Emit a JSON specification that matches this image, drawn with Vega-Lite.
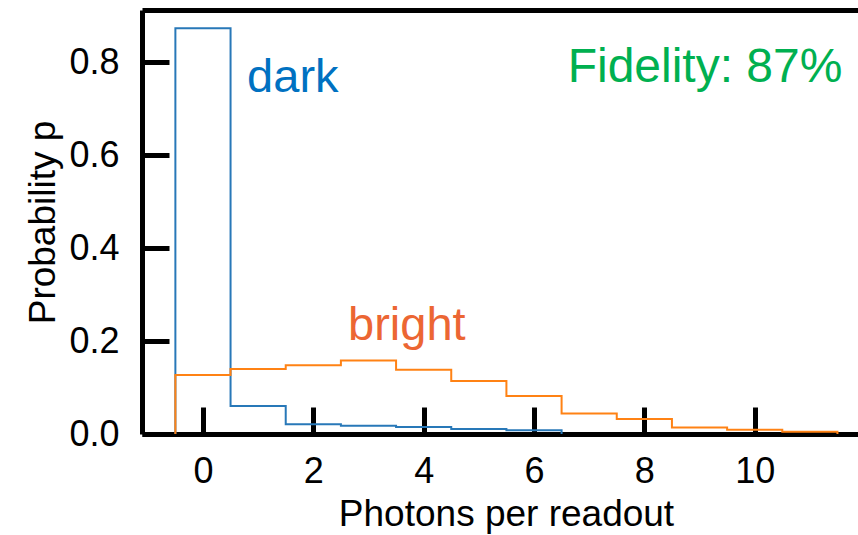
{
  "$schema": "https://vega.github.io/schema/vega-lite/v6.json",
  "width": 728,
  "height": 424,
  "autosize": {"type": "none"},
  "padding": {"left": 142, "top": 10, "right": 0, "bottom": 101},
  "background": "white",
  "config": {
    "view": {"stroke": null},
    "font": "Liberation Sans",
    "axis": {
      "domainColor": "black",
      "domainWidth": 5,
      "tickColor": "black",
      "tickWidth": 5,
      "tickSize": -27,
      "labelFontSize": 36,
      "labelColor": "black",
      "titleFontSize": 37,
      "titleFontWeight": "normal",
      "titleColor": "black",
      "grid": false,
      "zindex": 1
    }
  },
  "datasets": {
    "hist": [
      {"series": "dark", "edge": -0.5, "p": 0},
      {"series": "dark", "edge": -0.5, "p": 0.873},
      {"series": "dark", "edge": 0.5, "p": 0.060},
      {"series": "dark", "edge": 1.5, "p": 0.021},
      {"series": "dark", "edge": 2.5, "p": 0.018},
      {"series": "dark", "edge": 3.5, "p": 0.015},
      {"series": "dark", "edge": 4.5, "p": 0.011},
      {"series": "dark", "edge": 5.5, "p": 0.008},
      {"series": "dark", "edge": 6.5, "p": 0},
      {"series": "bright", "edge": -0.5, "p": 0},
      {"series": "bright", "edge": -0.5, "p": 0.127},
      {"series": "bright", "edge": 0.5, "p": 0.140},
      {"series": "bright", "edge": 1.5, "p": 0.148},
      {"series": "bright", "edge": 2.5, "p": 0.158},
      {"series": "bright", "edge": 3.5, "p": 0.138},
      {"series": "bright", "edge": 4.5, "p": 0.114},
      {"series": "bright", "edge": 5.5, "p": 0.082},
      {"series": "bright", "edge": 6.5, "p": 0.044},
      {"series": "bright", "edge": 7.5, "p": 0.032},
      {"series": "bright", "edge": 8.5, "p": 0.014},
      {"series": "bright", "edge": 9.5, "p": 0.009},
      {"series": "bright", "edge": 10.5, "p": 0.005},
      {"series": "bright", "edge": 11.5, "p": 0}
    ]
  },
  "resolve": {"axis": {"x": "independent"}},
  "layer": [
    {
      "data": {"name": "hist"},
      "mark": {"type": "line", "interpolate": "step-after", "strokeWidth": 2, "clip": true},
      "encoding": {
        "x": {
          "field": "edge", "type": "quantitative",
          "scale": {"domain": [-1.105, 12.09], "nice": false, "zero": false},
          "axis": {"orient": "bottom", "values": [0, 2, 4, 6, 8, 10], "format": "d", "title": "Photons per readout", "labelPadding": 47, "titlePadding": 7}
        },
        "y": {
          "field": "p", "type": "quantitative",
          "scale": {"domain": [0, 0.912], "nice": false},
          "axis": {"values": [0, 0.2, 0.4, 0.6, 0.8], "format": ".1f", "title": "Probability p", "labelPadding": 50, "titlePadding": 6}
        },
        "color": {
          "field": "series", "type": "nominal",
          "scale": {"domain": ["dark", "bright"], "range": ["#2878b8", "#ff8214"]},
          "legend": null
        },
        "order": {"field": "edge"}
      }
    },
    {
      "data": {"name": "hist"},
      "mark": {"type": "point", "opacity": 0},
      "encoding": {
        "x": {
          "field": "edge", "type": "quantitative",
          "axis": {"orient": "top", "labels": false, "ticks": false, "title": null}
        },
        "y": {"field": "p", "type": "quantitative"}
      }
    },
    {
      "data": {"values": [{}]},
      "mark": {"type": "text", "text": "dark", "align": "left", "baseline": "alphabetic", "fontSize": 47, "color": "#0071c1"},
      "encoding": {"x": {"datum": 0.80, "axis": null}, "y": {"datum": 0.735}}
    },
    {
      "data": {"values": [{}]},
      "mark": {"type": "text", "text": "bright", "align": "left", "baseline": "alphabetic", "fontSize": 47, "color": "#ec6633"},
      "encoding": {"x": {"datum": 2.63, "axis": null}, "y": {"datum": 0.202}}
    },
    {
      "data": {"values": [{}]},
      "mark": {"type": "text", "text": "Fidelity: 87%", "align": "left", "baseline": "alphabetic", "fontSize": 48, "color": "#00b050"},
      "encoding": {"x": {"datum": 6.61, "axis": null}, "y": {"datum": 0.757}}
    }
  ]
}
